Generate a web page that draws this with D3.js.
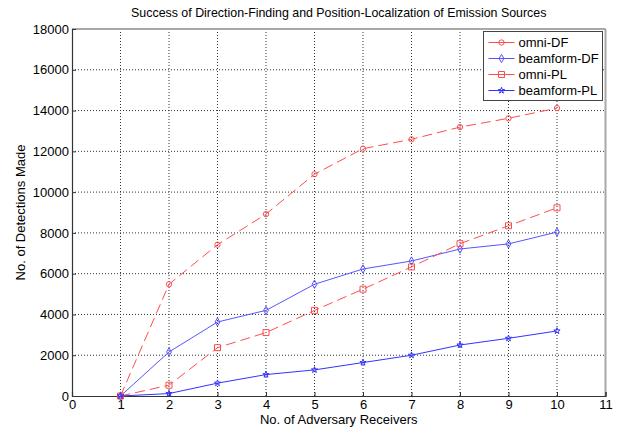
<!DOCTYPE html>
<html>
<head>
<meta charset="utf-8">
<script src="https://cdn.jsdelivr.net/npm/d3@7"></script>
<style>
  body { margin: 0; background: #fff; }
  text { font-family: "Liberation Sans", Arial, sans-serif; fill: #000; }
</style>
</head>
<body>
<svg id="chart"></svg>
<script>
const receivers = [1, 2, 3, 4, 5, 6, 7, 8, 9, 10];
const omniDF = [0, 5480, 7420, 8920, 10880, 12130, 12590, 13190, 13620, 14120];
const beamDF = [0, 2160, 3630, 4200, 5480, 6230, 6620, 7210, 7460, 8040];
const omniPL = [0, 530, 2370, 3110, 4200, 5240, 6330, 7470, 8350, 9230];
const beamPL = [0, 120, 630, 1050, 1280, 1640, 2000, 2500, 2830, 3190];
const xTicks = d3.range(0, 12);
const yTicks = d3.range(0, 18001, 2000);

const svgWidth = 625;
const svgHeight = 427;
const margin = { top: 29, right: 19.5, bottom: 31, left: 72 };
const width = svgWidth - margin.left - margin.right;
const height = svgHeight - margin.top - margin.bottom;

const svg = d3.select("#chart").attr("width", svgWidth).attr("height", svgHeight);
const g = svg.append("g").attr("transform", `translate(${margin.left},${margin.top})`);

const xScale = d3.scaleLinear().domain([0, 11]).range([0, width]);
const yScale = d3.scaleLinear().domain([0, 18000]).range([height, 0]);

// grid
g.append("g")
  .selectAll("line")
  .data(xTicks.slice(1, -1))
  .join("line")
  .attr("x1", (d) => xScale(d)).attr("x2", (d) => xScale(d))
  .attr("y1", 0).attr("y2", height)
  .attr("stroke", "#333").attr("stroke-width", 1)
  .attr("stroke-dasharray", "1,2");
g.append("g")
  .selectAll("line")
  .data(yTicks.slice(1, -1))
  .join("line")
  .attr("x1", 0).attr("x2", width)
  .attr("y1", (d) => yScale(d)).attr("y2", (d) => yScale(d))
  .attr("stroke", "#333").attr("stroke-width", 1)
  .attr("stroke-dasharray", "1,2");

// top / right box edges (light gray)
g.append("line").attr("x1", 0).attr("x2", width).attr("y1", 0).attr("y2", 0)
  .attr("stroke", "#a8a8a8").attr("stroke-width", 2);
g.append("line").attr("x1", width).attr("x2", width).attr("y1", 0).attr("y2", height)
  .attr("stroke", "#a8a8a8").attr("stroke-width", 2);

// axes
const xAxis = g.append("g")
  .attr("transform", `translate(0, ${height})`)
  .call(d3.axisBottom(xScale).tickValues(xTicks).tickFormat(d3.format("d")).tickSize(-4).tickPadding(4));
const yAxis = g.append("g")
  .call(d3.axisLeft(yScale).tickValues(yTicks).tickFormat(d3.format("d")).tickSize(-4).tickPadding(3));
[xAxis, yAxis].forEach((ax) => {
  ax.select(".domain").attr("stroke", "#333").attr("stroke-width", 1.2);
  ax.selectAll(".tick line").attr("stroke", "#333");
  ax.selectAll(".tick text").attr("font-size", 13).attr("font-family", "Liberation Sans, Arial, sans-serif").attr("fill", "#000");
});

// series
const series = [
  { name: "omni-DF", values: omniDF, color: "#ff4d4d", dash: "10,5", marker: "circle" },
  { name: "beamform-DF", values: beamDF, color: "#5555ff", dash: null, marker: "diamond" },
  { name: "omni-PL", values: omniPL, color: "#ff4d4d", dash: "10,5", marker: "square" },
  { name: "beamform-PL", values: beamPL, color: "#3333ff", dash: null, marker: "star" },
];

const line = d3.line()
  .x((d) => xScale(d[0]))
  .y((d) => yScale(d[1]));

const markerPath = (type) => {
  if (type === "circle") return d3.symbol(d3.symbolCircle, 22)();
  if (type === "square") return d3.symbol(d3.symbolSquare, 36)();
  if (type === "diamond") return d3.symbol(d3.symbolDiamond, 20)();
  return d3.symbol(d3.symbolStar, 12)();
};

series.forEach((s) => {
  const pts = receivers.map((r, i) => [r, s.values[i]]);
  g.append("path")
    .datum(pts)
    .attr("d", line)
    .attr("fill", "none")
    .attr("stroke", s.color)
    .attr("stroke-width", 1)
    .attr("stroke-dasharray", s.dash);
  g.append("g")
    .selectAll("path")
    .data(pts)
    .join("path")
    .attr("transform", (d) => `translate(${xScale(d[0])},${yScale(d[1])})`)
    .attr("d", markerPath(s.marker))
    .attr("fill", "none")
    .attr("stroke", s.color)
    .attr("stroke-width", 1);
});

// legend
const legend = svg.append("g").attr("transform", "translate(483.5,31.5)");
legend.append("rect")
  .attr("width", 119).attr("height", 69)
  .attr("fill", "#fff").attr("stroke", "#444").attr("stroke-width", 1);
series.forEach((s, i) => {
  const y = 11 + i * 16;
  legend.append("line")
    .attr("x1", 5).attr("x2", 31).attr("y1", y).attr("y2", y)
    .attr("stroke", s.color).attr("stroke-width", 1);
  legend.append("path")
    .attr("transform", `translate(18,${y})`)
    .attr("d", markerPath(s.marker))
    .attr("fill", "none")
    .attr("stroke", s.color);
  legend.append("text")
    .attr("x", 35).attr("y", y).attr("dy", "0.35em")
    .attr("font-size", 13)
    .text(s.name);
});

// titles
svg.append("text")
  .attr("x", margin.left + width / 2).attr("y", 17)
  .attr("text-anchor", "middle").attr("font-size", 12.4)
  .text("Success of Direction-Finding and Position-Localization of Emission Sources");
svg.append("text")
  .attr("x", margin.left + width / 2).attr("y", 424)
  .attr("text-anchor", "middle").attr("font-size", 13)
  .text("No. of Adversary Receivers");
svg.append("text")
  .attr("transform", `translate(25,${margin.top + height / 2}) rotate(-90)`)
  .attr("text-anchor", "middle").attr("font-size", 13)
  .text("No. of Detections Made");
</script>
</body>
</html>
